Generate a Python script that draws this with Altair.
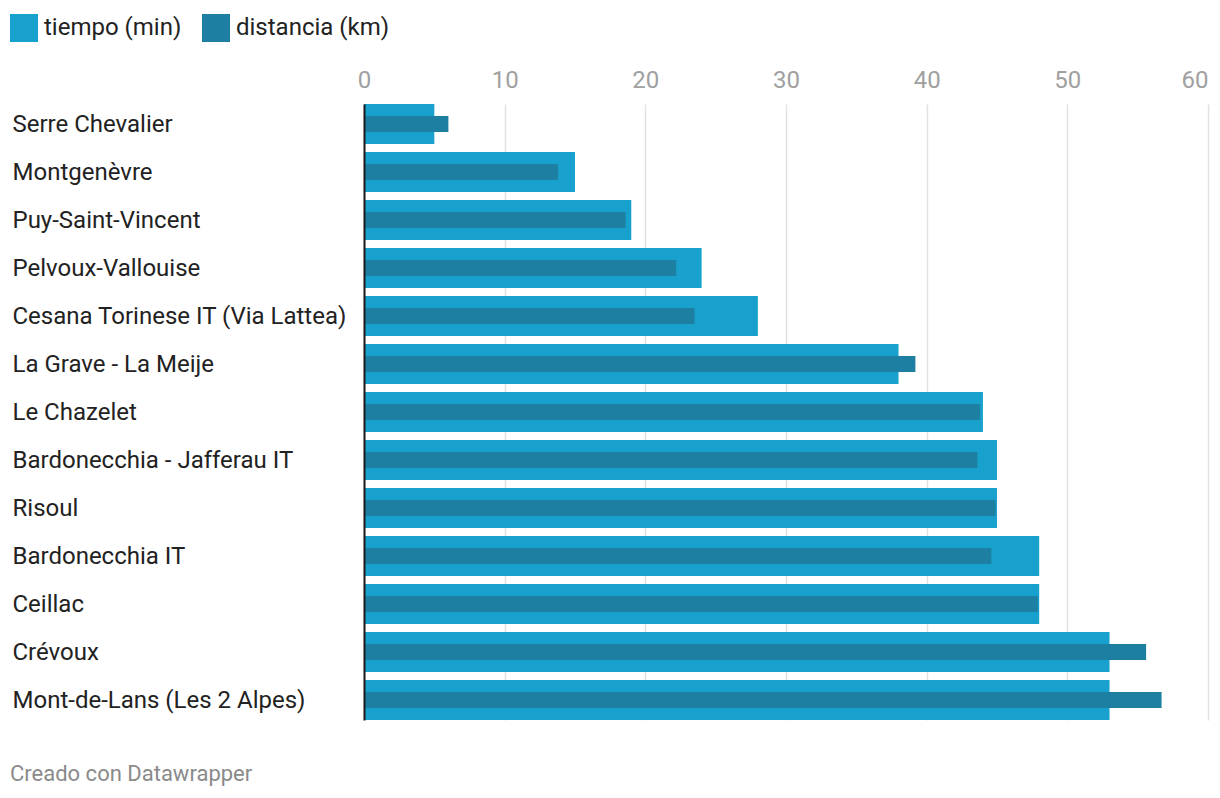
import altair as alt
import pandas as pd

estaciones = [
    "Serre Chevalier", "Montgenèvre", "Puy-Saint-Vincent", "Pelvoux-Vallouise",
    "Cesana Torinese IT (Via Lattea)", "La Grave - La Meije", "Le Chazelet",
    "Bardonecchia - Jafferau IT", "Risoul", "Bardonecchia IT", "Ceillac",
    "Crévoux", "Mont-de-Lans (Les 2 Alpes)",
]
tiempo = [5, 15, 19, 24, 28, 38, 44, 45, 45, 48, 48, 53, 53]
distancia = [6, 13.8, 18.6, 22.2, 23.5, 39.2, 43.8, 43.6, 44.9, 44.6, 47.9, 55.6, 56.7]
series = ["tiempo (min)", "distancia (km)"]
colores = ["#18a1cd", "#1d80a2"]
ticks = [0, 10, 20, 30, 40, 50, 60]

df_t = pd.DataFrame({"estacion": estaciones, "valor": tiempo, "serie": series[0]})
df_d = pd.DataFrame({"estacion": estaciones, "valor": distancia, "serie": series[1]})

FONT = "Roboto"

y = alt.Y(
    "estacion:N", sort=estaciones, title=None,
    scale=alt.Scale(paddingInner=1 / 6, paddingOuter=0),
    axis=alt.Axis(
        orient="left", labelAlign="left", labelPadding=352, ticks=False,
        labelFontSize=24, labelColor="#222222", labelFont=FONT,
        domain=True, domainColor="#1a1a1a", domainWidth=2, grid=False,
        labelBaseline="middle", labelLimit=400, zindex=1, labelOffset=1,
    ),
)
x = alt.X(
    "valor:Q", title=None,
    scale=alt.Scale(domain=[0, 60], nice=False),
    axis=alt.Axis(
        orient="top", values=ticks, ticks=False, domain=False,
        labelFontSize=24, labelColor="#a0a0a0", labelFont=FONT, labelPadding=12,
        grid=True, gridColor="#e2e2e2", gridWidth=1.5,
        labelAlign=alt.expr("datum.value == 60 ? 'right' : 'center'"),
    ),
)
color = alt.Color(
    "serie:N",
    scale=alt.Scale(domain=series, range=colores),
    legend=alt.Legend(
        title=None, orient="none", legendX=-354, legendY=-90, direction="horizontal",
        symbolType="square", symbolSize=784, symbolStrokeWidth=0, symbolOpacity=1,
        labelFontSize=24, labelColor="#222222", labelFont=FONT, labelOffset=6,
        columnPadding=20, padding=0, labelLimit=300,
    ),
)

bars_t = alt.Chart(df_t).mark_bar().encode(x=x, y=y, color=color)
bars_d = alt.Chart(df_d).mark_bar(size=16).encode(x=x, y=y, color=color)

chart = alt.layer(bars_t, bars_d).properties(
    width=844, height=616,
    autosize=alt.AutoSizeParams(type="none"),
    padding={"left": 356, "top": 96, "right": 4, "bottom": 70},
    title=alt.Title(
        "Creado con Datawrapper", orient="bottom", anchor="start", frame="group",
        dx=-354, offset=44, fontSize=22, fontWeight="normal", color="#8a8a8a", font=FONT,
    ),
).configure(font=FONT).configure_view(stroke=None)

chart.save("out.html", embed_options={"renderer": "svg", "actions": False})
